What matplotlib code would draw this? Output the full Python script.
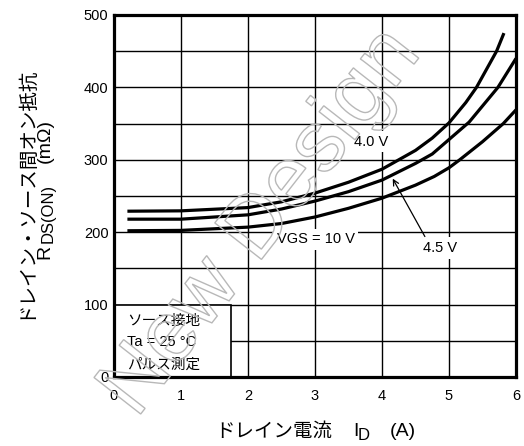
import matplotlib
matplotlib.use("Agg")
import matplotlib.pyplot as plt
from matplotlib.patches import Rectangle
from matplotlib import patheffects as pe

plt.rcParams['font.family'] = ['Liberation Sans', 'Noto Sans CJK JP', 'DejaVu Sans']

# ---- data ----
x_40v = [0.2, 1, 2, 2.5, 3, 3.5, 4, 4.5, 4.75, 5, 5.25, 5.41, 5.71, 5.82]
y_40v = [229, 229.5, 234, 242, 254, 269, 287, 313, 330, 351, 379, 400, 450, 475]
x_45v = [0.2, 1, 2, 2.5, 3, 3.5, 4, 4.5, 4.75, 5, 5.3, 5.73, 6.0]
y_45v = [218, 218, 224, 232, 243, 256, 272, 295, 308, 328, 352, 400, 440]
x_10v = [0.2, 1, 2, 2.5, 3, 3.5, 4, 4.5, 4.78, 5, 5.16, 5.5, 5.81, 6.0]
y_10v = [202, 202.5, 207, 212, 221, 233, 247, 265, 277, 289, 300, 325, 350, 369]
x_ticks = [0, 1, 2, 3, 4, 5, 6]
y_ticks = [0, 100, 200, 300, 400, 500]
x_grid = [1, 2, 3, 4, 5]
y_grid = [50, 100, 150, 200, 250, 300, 350, 400, 450]

W, H = 524, 446
fig = plt.figure(figsize=(W / 100, H / 100), dpi=100)
ax = fig.add_axes([114 / W, 1 - 377 / H, (516 - 114) / W, (377 - 15) / H])

# watermark (outlined, light grey)
fig.text(0.5, 0.5, "New Design", fontsize=62, rotation=52, ha='center', va='center',
         color='none', family='Liberation Sans', zorder=0,
         path_effects=[pe.PathPatchEffect(edgecolor='#b8b8b8', facecolor='none', linewidth=1.0)])
ax.patch.set_alpha(0)

ax.set_xlim(0, 6)
ax.set_ylim(0, 500)
for g in x_grid:
    ax.axvline(g, color='black', lw=1.0, zorder=1)
for g in y_grid:
    ax.axhline(g, color='black', lw=1.0, zorder=1)

lw = 2.3
ax.plot(x_40v, y_40v, color='black', lw=lw, zorder=3, solid_capstyle='butt', solid_joinstyle='round')
ax.plot(x_45v, y_45v, color='black', lw=lw, zorder=3, solid_capstyle='butt', solid_joinstyle='round')
ax.plot(x_10v, y_10v, color='black', lw=lw, zorder=3, solid_capstyle='butt', solid_joinstyle='round')

ax.set_xticks(x_ticks)
ax.set_yticks(y_ticks)
ax.set_xticklabels([str(v) for v in x_ticks])
ax.set_yticklabels([str(v) for v in y_ticks])
ax.tick_params(axis='both', length=0, labelsize=10.5)
ax.tick_params(axis='x', pad=9)
ax.tick_params(axis='y', pad=4)
for s in ax.spines.values():
    s.set_linewidth(2.3)
    s.set_zorder(5)

bb = dict(boxstyle='square,pad=0.25', fc='white', ec='none')
ax.text(3.84, 325, "4.0 V", fontsize=10.5, ha='center', va='center', bbox=bb, zorder=4)
ax.text(3.01, 190, "VGS = 10 V", fontsize=10.5, ha='center', va='center', bbox=bb, zorder=4)
ax.text(4.87, 178, "4.5 V", fontsize=10.5, ha='center', va='center', bbox=bb, zorder=4)
ax.annotate("", xy=(4.16, 274), xytext=(4.64, 194),
            arrowprops=dict(arrowstyle='->', color='black', lw=0.9, shrinkA=0, shrinkB=0,
                            mutation_scale=10), zorder=4)

# condition box
ax.add_patch(Rectangle((0, 0), 1.75, 100, facecolor='white', edgecolor='black', lw=1.2, zorder=4))
ax.text(0.2, 78, "ソース接地", fontsize=10.5, ha='left', va='center', zorder=5)
ax.text(0.2, 48, "Ta = 25 °C", fontsize=10.5, ha='left', va='center', zorder=5)
ax.text(0.2, 17, "パルス測定", fontsize=10.5, ha='left', va='center', zorder=5)


def fx(px):
    return px / W


def fy(py):
    return 1 - py / H


# x label pieces
fig.text(fx(215), fy(432), "ドレイン電流", fontsize=14, ha='left', va='center')
fig.text(fx(353), fy(431), "I", fontsize=14, ha='left', va='center')
fig.text(fx(358), fy(436), "D", fontsize=12, ha='left', va='center')
fig.text(fx(390), fy(431), "(A)", fontsize=14, ha='left', va='center')

# y label pieces
fig.text(fx(25), fy(192), "ドレイン・ソース間オン抵抗", fontsize=14, rotation=90,
         ha='center', va='center')
fig.text(fx(45), fy(252), "R", fontsize=14, rotation=90, ha='center', va='center')
fig.text(fx(48), fy(213), "DS(ON)", fontsize=12, rotation=90, ha='center', va='center')
fig.text(fx(45), fy(141), "(mΩ)", fontsize=14, rotation=90, ha='center', va='center')

fig.savefig("out.png", dpi=100)
